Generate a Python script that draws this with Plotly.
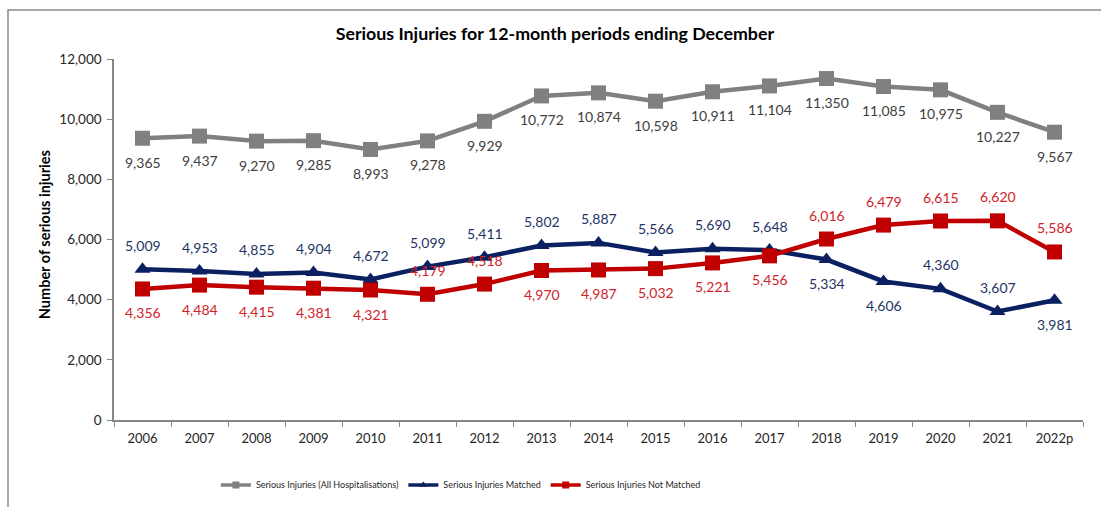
import plotly.graph_objects as go

# data
years = ["2006", "2007", "2008", "2009", "2010", "2011", "2012", "2013", "2014",
         "2015", "2016", "2017", "2018", "2019", "2020", "2021", "2022p"]
all_hosp = [9365, 9437, 9270, 9285, 8993, 9278, 9929, 10772, 10874,
            10598, 10911, 11104, 11350, 11085, 10975, 10227, 9567]
matched = [5009, 4953, 4855, 4904, 4672, 5099, 5411, 5802, 5887,
           5566, 5690, 5648, 5334, 4606, 4360, 3607, 3981]
not_matched = [4356, 4484, 4415, 4381, 4321, 4179, 4518, 4970, 4987,
               5032, 5221, 5456, 6016, 6479, 6615, 6620, 5586]

# label above (+1) or below (-1) each point
side_all = [-1] * 17
side_matched = [1] * 12 + [-1, -1, 1, 1, -1]
side_not = [-1] * 5 + [1] * 2 + [-1] * 5 + [1] * 5

FONT = "Lato, 'Open Sans', sans-serif"

series = [
    ("Serious Injuries (All Hospitalisations)", all_hosp, side_all,
     "#808080", "#404040", "square"),
    ("Serious Injuries Matched", matched, side_matched,
     "#0B2060", "#1F3466", "triangle-up"),
    ("Serious Injuries Not Matched", not_matched, side_not,
     "#C00000", "#D0232A", "square"),
]

fig = go.Figure()
annotations = []
for name, vals, sides, col, lblcol, sym in series:
    fig.add_trace(go.Scatter(
        x=years, y=vals, name=name, mode="lines+markers", showlegend=False,
        line=dict(color=col, width=4.5),
        marker=dict(symbol=sym, size=15 if sym == "square" else 14, color=col)))
    # legend-only stand-in with smaller symbol, like the Excel legend
    fig.add_trace(go.Scatter(
        x=[None], y=[None], name=name, mode="lines+markers",
        line=dict(color=col, width=3.5),
        marker=dict(symbol=sym, size=7, color=col)))
    # category index used for x, since "2006" etc. would be read as numbers
    for i, (v, s) in enumerate(zip(vals, sides)):
        annotations.append(dict(
            x=i, y=v, xref="x", yref="y", text=f"{v:,}", showarrow=False,
            yshift=24 * s, yanchor="middle",
            font=dict(size=14, color=lblcol, family=FONT)))

annotations.append(dict(
    text="<b>Number of serious injuries</b>", textangle=-90, showarrow=False,
    xref="paper", yref="paper", x=-0.0722, y=0.512, xanchor="center",
    yanchor="middle", font=dict(size=14.5, color="black", family=FONT)))

fig.update_layout(
    width=1101, height=507,
    margin=dict(l=114, r=18, t=59, b=87, autoexpand=False),
    paper_bgcolor="white", plot_bgcolor="white",
    font=dict(family=FONT, color="#262626"),
    title=dict(text="<b>Serious Injuries for 12-month periods ending December</b>",
               x=0.504, xanchor="center", y=0.933, yanchor="middle",
               font=dict(size=17.8, color="black")),
    showlegend=True,
    legend=dict(orientation="h", x=0.358, xanchor="center", y=-0.18,
                yanchor="middle", font=dict(size=9, color="#262626"),
                itemwidth=30, tracegroupgap=0),
    annotations=annotations,
)
fig.update_xaxes(
    type="category", showline=True, linecolor="#868686", linewidth=1.5,
    ticks="outside", tickson="boundaries", ticklen=5, tickcolor="#868686",
    tickfont=dict(size=13, color="#262626"), ticklabelstandoff=6,
    showgrid=False, zeroline=False, range=[-0.5, 16.5], automargin=False)
fig.update_yaxes(
    range=[0, 12000], dtick=2000, tickformat=",", showline=True,
    linecolor="#868686", linewidth=1.5, ticks="outside", ticklen=5,
    tickcolor="#868686", tickfont=dict(size=13.5, color="#262626"),
    ticklabelstandoff=3, showgrid=False, zeroline=False, automargin=False)

# outer chart frame
fig.add_shape(type="rect", xref="paper", yref="paper",
              x0=-0.1094, x1=1.03, y0=-0.28, y1=1.1357,
              line=dict(color="#8c8c8c", width=1.5), layer="below")

# drop the browser's default 8px body margin so the figure sits at 0,0
fig.write_html("out.html", config={"displayModeBar": False},
               post_script="document.body.style.margin='0';")
